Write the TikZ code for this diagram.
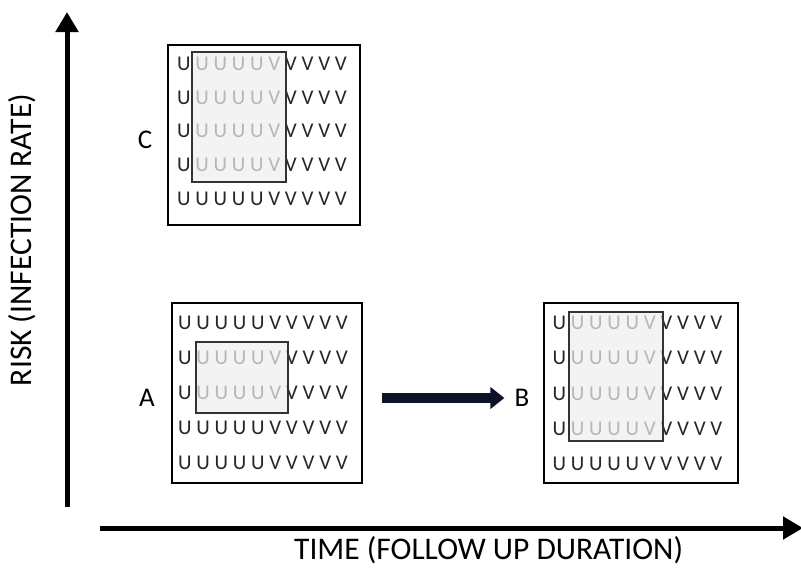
\documentclass[tikz,border=0pt]{standalone}
\usepackage{fontspec}
\setmainfont{Carlito}
\usetikzlibrary{arrows.meta}
\begin{document}
\begin{tikzpicture}[x=1pt,y=-1pt,
  gridrow/.style={font=\fontsize{21}{21}\selectfont, inner sep=0pt, text=black!85},
  outerbox/.style={draw=black, line width=2.6pt, minimum width=192pt, minimum height=180pt, inner sep=0pt},
  focus/.style={draw=black!80, line width=1.3pt, inner sep=0pt,
    fill={rgb,255:red,240;green,238;blue,238}, fill opacity=0.72},
  axis/.style={line width=5pt, -{Triangle[width=22pt,length=20pt]}},
  axislabel/.style={font=\fontsize{31.5}{31.5}\selectfont, inner sep=0pt},
  tag/.style={font=\fontsize{27}{27}\selectfont, inner sep=0pt},
  flow/.style={line width=9.5pt, draw={rgb,255:red,12;green,18;blue,40},
    -{Triangle[width=21pt,length=14pt]}}]
\useasboundingbox (0,0) rectangle (801,568);

% axes
\coordinate (yfoot) at (67,507);
\coordinate (ytip) at (67,12);
\coordinate (xfoot) at (100,528);
\coordinate (xtip) at (803,528);
\draw[axis] (yfoot) -- (ytip);
\draw[axis] (xfoot) -- (xtip);
\node[axislabel, rotate=90] (ylab) at (22,240) {RISK (INFECTION RATE)};
\node[axislabel, anchor=west] (xlab) at (294,550) {TIME (FOLLOW UP DURATION)};

% scenario C
\node[outerbox] (boxC) at (264,135) {};
\foreach \i in {0,...,4}
  \node[gridrow] (rowC\i) at (262,64+33.6*\i) {U U U U U V V V V V};
\node[focus, minimum width=94pt, minimum height=130pt] (focC) at (239,117) {};
\node[tag] (tagC) at (145,140) {C};

% scenario A
\node[outerbox, minimum width=190pt] (boxA) at (267,393) {};
\foreach \i in {0,...,4}
  \node[gridrow] (rowA\i) at (263,323+35*\i) {U U U U U V V V V V};
\node[focus, minimum width=92pt, minimum height=71pt] (focA) at (242,377.5) {};
\node[tag] (tagA) at (147,398) {A};

% scenario B
\node[outerbox, minimum width=194pt] (boxB) at (641,393) {};
\foreach \i in {0,...,4}
  \node[gridrow] (rowB\i) at (637.5,323+35.3*\i) {U U U U U V V V V V};
\node[focus, minimum width=94pt, minimum height=129pt] (focB) at (616,376.5) {};
\node[tag] (tagB) at (522,398) {B};

% progression from A to B
\coordinate (flowstart) at (382,398);
\draw[flow] (flowstart) -- ([xshift=-10pt]tagB.west);
\end{tikzpicture}
\end{document}
